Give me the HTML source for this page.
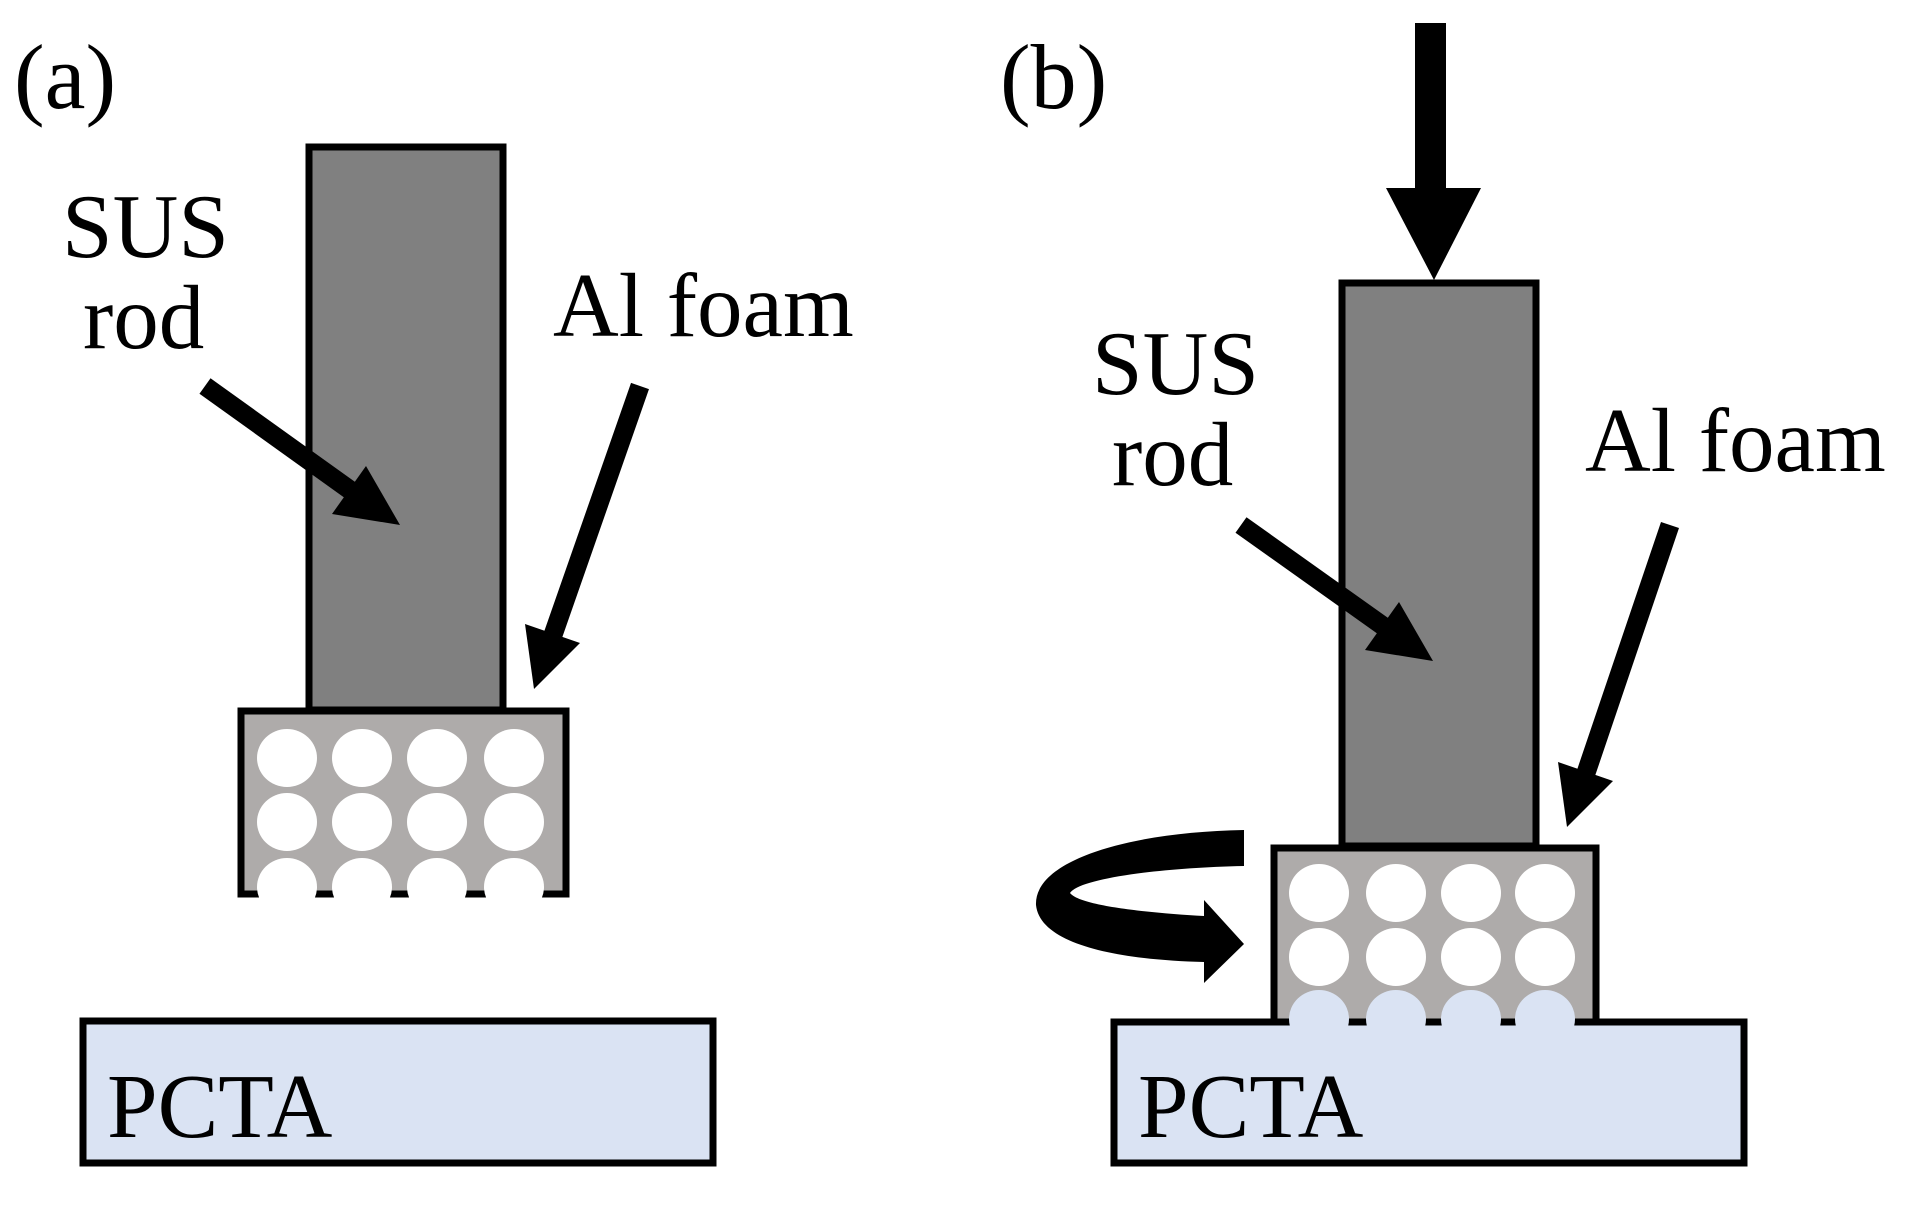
<!DOCTYPE html>
<html><head><meta charset="utf-8"><style>
html,body{margin:0;padding:0;background:#fff;}
svg{display:block;}
text{font-family:"Liberation Serif",serif;fill:#000;}
</style></head><body>
<svg width="1913" height="1205" viewBox="0 0 1913 1205" xmlns="http://www.w3.org/2000/svg">
<defs>
<clipPath id="ca"><rect x="242" y="711" width="323" height="187"/></clipPath>
<clipPath id="cb"><rect x="1274" y="848" width="321" height="178"/></clipPath>
</defs>
<!-- Panel a -->
<text x="14" y="108" font-size="92">(a)</text>
<rect x="309" y="147" width="194" height="563" fill="#808080" stroke="#000" stroke-width="7"/>
<rect x="241" y="711" width="325" height="183" fill="#aeabaa" stroke="#000" stroke-width="7"/>
<g fill="#fff" clip-path="url(#ca)">
<ellipse cx="287" cy="758" rx="30" ry="29"/><ellipse cx="362" cy="758" rx="30" ry="29"/><ellipse cx="437" cy="758" rx="30" ry="29"/><ellipse cx="514" cy="758" rx="30" ry="29"/>
<ellipse cx="287" cy="822" rx="30" ry="29"/><ellipse cx="362" cy="822" rx="30" ry="29"/><ellipse cx="437" cy="822" rx="30" ry="29"/><ellipse cx="514" cy="822" rx="30" ry="29"/>
<ellipse cx="287" cy="887" rx="30" ry="29"/><ellipse cx="362" cy="887" rx="30" ry="29"/><ellipse cx="437" cy="887" rx="30" ry="29"/><ellipse cx="514" cy="887" rx="30" ry="29"/>
</g>
<rect x="83" y="1021" width="630" height="142" fill="#dae3f3" stroke="#000" stroke-width="7"/>
<text x="107" y="1137" font-size="91">PCTA</text>
<text x="62" y="257" font-size="91">SUS</text>
<text x="83" y="348" font-size="91">rod</text>
<text x="553" y="336" font-size="91">Al foam</text>
<line x1="205" y1="386" x2="350" y2="490" stroke="#000" stroke-width="19"/>
<polygon points="400,525 332,514 366,466" fill="#000"/>
<line x1="640" y1="386" x2="553" y2="635" stroke="#000" stroke-width="19"/>
<polygon points="534,689 525,624 580,643" fill="#000"/>

<!-- Panel b -->
<text x="1000" y="108" font-size="92">(b)</text>
<rect x="1415" y="23" width="31" height="166" fill="#000"/>
<polygon points="1386,188 1481,188 1434,280" fill="#000"/>
<rect x="1342" y="283" width="194" height="563" fill="#808080" stroke="#000" stroke-width="7"/>
<rect x="1274" y="848" width="322" height="175" fill="#aeabaa" stroke="#000" stroke-width="7"/>
<rect x="1114" y="1022" width="630" height="141" fill="#dae3f3" stroke="#000" stroke-width="7"/>
<g clip-path="url(#cb)">
<g fill="#fff">
<ellipse cx="1319" cy="893" rx="30" ry="29"/><ellipse cx="1396" cy="893" rx="30" ry="29"/><ellipse cx="1471" cy="893" rx="30" ry="29"/><ellipse cx="1545" cy="893" rx="30" ry="29"/>
<ellipse cx="1319" cy="957" rx="30" ry="29"/><ellipse cx="1396" cy="957" rx="30" ry="29"/><ellipse cx="1471" cy="957" rx="30" ry="29"/><ellipse cx="1545" cy="957" rx="30" ry="29"/>
</g>
<g fill="#dae3f3">
<ellipse cx="1319" cy="1019" rx="30" ry="29"/><ellipse cx="1396" cy="1019" rx="30" ry="29"/><ellipse cx="1471" cy="1019" rx="30" ry="29"/><ellipse cx="1545" cy="1019" rx="30" ry="29"/>
</g>
</g>
<text x="1138" y="1137" font-size="91">PCTA</text>
<text x="1092" y="394" font-size="91">SUS</text>
<text x="1112" y="485" font-size="91">rod</text>
<text x="1585" y="471" font-size="91">Al foam</text>
<line x1="1241" y1="525" x2="1383" y2="626" stroke="#000" stroke-width="19"/>
<polygon points="1433,661 1365,650 1399,602" fill="#000"/>
<line x1="1670" y1="525" x2="1586" y2="773" stroke="#000" stroke-width="19"/>
<polygon points="1567,827 1558,762 1613,781" fill="#000"/>
<path d="M1244,830 L1244,866 C1150,868 1078,880 1070,893 C1080,906 1150,913 1204,916 L1204,900 L1244,944 L1204,983 L1204,962 C1120,960 1040,945 1036,905 C1034,860 1130,832 1244,830 Z" fill="#000"/>
</svg>
</body></html>
